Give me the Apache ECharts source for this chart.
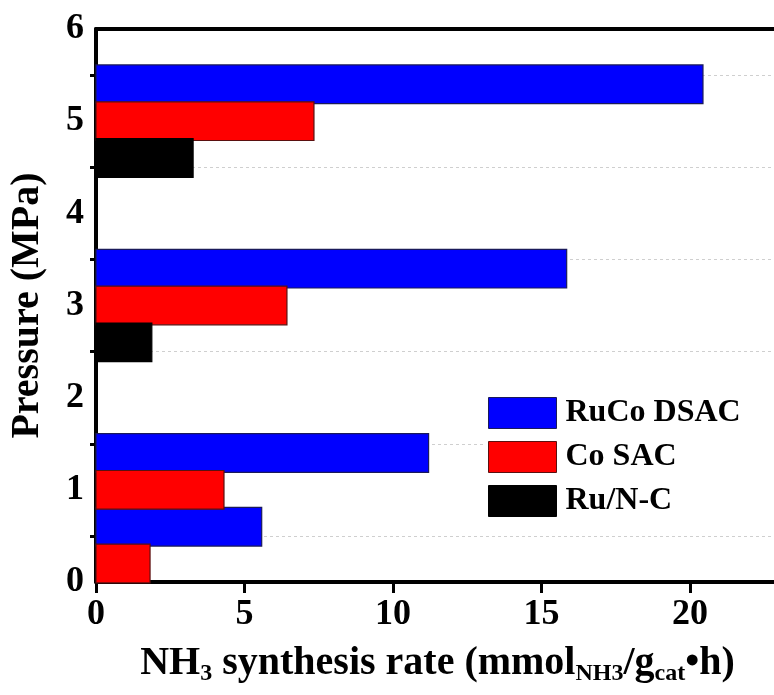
<!DOCTYPE html>
<html>
<head>
<meta charset="utf-8">
<title>NH3 synthesis rate vs pressure</title>
<script src="https://cdn.jsdelivr.net/npm/echarts@6/dist/echarts.min.js"></script>
<style>
  html, body { margin: 0; padding: 0; background: #fff; }
  #chart { width: 774px; height: 695px; }
</style>
</head>
<body>
<div id="chart"></div>
<script>
// Bar centre positions on the pressure axis and synthesis rates for each catalyst
const seriesNames = ['RuCo DSAC', 'Co SAC', 'Ru/N-C'];
const rucoPos = [0.6, 1.4, 3.4, 5.4];
const rucoRate = [5.58, 11.2, 15.85, 20.44];
const coPos = [0.2, 1.0, 3.0, 5.0];
const coRate = [1.82, 4.31, 6.43, 7.34];
const runcPos = [2.6, 4.6];
const runcRate = [1.88, 3.27];

const rateTicks = [0, 5, 10, 15, 20];
const pressureTicks = [0, 1, 2, 3, 4, 5, 6];

const BAR_THICKNESS = 0.42; // bar height in pressure units
const FONT = '"Liberation Serif", "Times New Roman", serif';

function pairs(pos, vals) {
  return pos.map((p, i) => [p, vals[i]]);
}

function barRenderer(fill, stroke) {
  return function (params, api) {
    const y = api.value(0);
    const x = api.value(1);
    const a = api.coord([0, y + BAR_THICKNESS / 2]);
    const b = api.coord([x, y - BAR_THICKNESS / 2]);
    return {
      type: 'rect',
      shape: { x: a[0], y: a[1], width: b[0] - a[0], height: b[1] - a[1] },
      style: { fill: fill, stroke: stroke, lineWidth: 1.2 }
    };
  };
}

function makeSeries(name, pos, vals, fill, stroke) {
  return {
    name: name,
    type: 'custom',
    renderItem: barRenderer(fill, stroke),
    data: pairs(pos, vals),
    encode: { x: 1, y: 0 },
    itemStyle: { color: fill, borderColor: stroke, borderWidth: 1 },
    z: 2
  };
}

const chart = echarts.init(document.getElementById('chart'), null, { renderer: 'canvas' });

const labelStyle = { fontFamily: FONT, fontWeight: 'bold', fontSize: 36, color: '#000' };

chart.setOption({
  backgroundColor: '#fff',
  animation: false,
  grid: { left: 96, top: 29, right: -5, bottom: 113, containLabel: false, outerBoundsMode: 'none' },
  legend: {
    orient: 'vertical',
    left: 486,
    top: 393,
    itemWidth: 68,
    itemHeight: 31,
    itemGap: 12,
    icon: 'rect',
    padding: [4, 40, 4, 2],
    backgroundColor: '#fff',
    textStyle: { fontFamily: FONT, fontWeight: 'bold', fontSize: 32, color: '#000', padding: [0, 0, 0, 4] },
    data: [
      { name: seriesNames[0], itemStyle: { color: '#0000ff', borderColor: '#1a1a5a', borderWidth: 1 } },
      { name: seriesNames[1], itemStyle: { color: '#ff0000', borderColor: '#5a1010', borderWidth: 1 } },
      { name: seriesNames[2], itemStyle: { color: '#000000', borderColor: '#000', borderWidth: 1 } }
    ],
    z: 5
  },
  xAxis: [
    {
      type: 'value',
      position: 'bottom',
      min: 0,
      max: 23,
      interval: 5,
      axisLine: { show: true, lineStyle: { color: '#000', width: 4 } },
      axisTick: { show: true, length: 11, lineStyle: { color: '#000', width: 3 } },
      axisLabel: Object.assign({ margin: 15, customValues: rateTicks, formatter: v => String(v) }, labelStyle),
      splitLine: { show: false },
      name: '{m|NH}{s|3}{m| synthesis rate (mmol}{s|NH3}{m|/g}{s|cat}{m|•h)}',
      nameLocation: 'middle',
      nameGap: 62,
      nameTextStyle: {
        rich: {
          m: { fontFamily: FONT, fontWeight: 'bold', fontSize: 40, color: '#000', lineHeight: 42, verticalAlign: 'top' },
          s: { fontFamily: FONT, fontWeight: 'bold', fontSize: 24, color: '#000', lineHeight: 25, padding: [23, 0, 0, 0], verticalAlign: 'bottom' }
        }
      }
    },
    {
      type: 'value',
      position: 'top',
      min: 0,
      max: 23,
      axisLine: { show: true, lineStyle: { color: '#000', width: 4 } },
      axisTick: { show: false },
      axisLabel: { show: false },
      splitLine: { show: false }
    }
  ],
  yAxis: {
    type: 'value',
    min: 0,
    max: 6,
    interval: 1,
    axisLine: { show: true, lineStyle: { color: '#000', width: 4 } },
    axisTick: { show: false },
    minorTick: { show: true, splitNumber: 2, length: 6, lineStyle: { color: '#000', width: 3 } },
    axisLabel: Object.assign({ margin: 12, customValues: pressureTicks, formatter: v => String(v) }, labelStyle),
    splitLine: { show: false },
    minorSplitLine: { show: true, lineStyle: { color: '#cfcfcf', width: 1, type: [3, 3] } },
    name: 'Pressure (MPa)',
    nameLocation: 'middle',
    nameRotate: 90,
    nameGap: 48,
    nameTextStyle: { fontFamily: FONT, fontWeight: 'bold', fontSize: 40, color: '#000' }
  },
  series: [
    makeSeries(seriesNames[0], rucoPos, rucoRate, '#0000ff', '#1a1a5a'),
    makeSeries(seriesNames[1], coPos, coRate, '#ff0000', '#5a1010'),
    makeSeries(seriesNames[2], runcPos, runcRate, '#000000', '#000000')
  ]
});
</script>
</body>
</html>
